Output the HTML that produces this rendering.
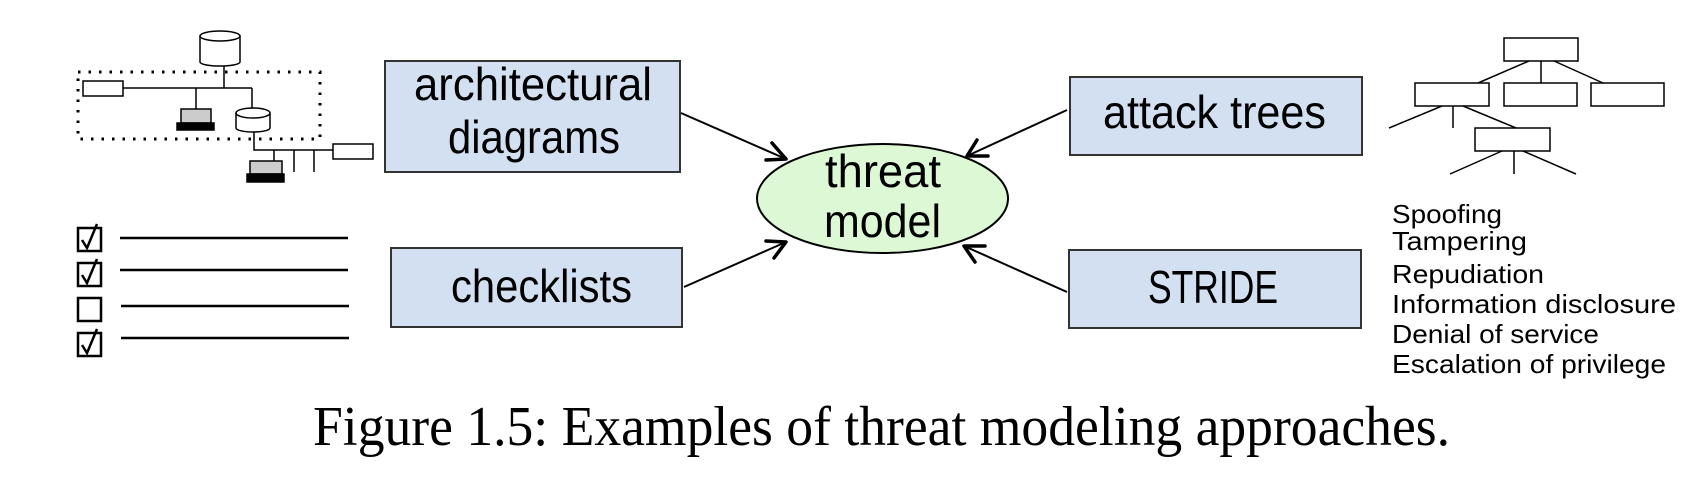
<!DOCTYPE html>
<html><head><meta charset="utf-8"><style>
html,body{margin:0;padding:0;background:#fff;width:1708px;height:484px;overflow:hidden}
svg{display:block}
.c{font-family:"Liberation Sans",sans-serif;fill:#000}
</style></head><body>
<svg width="1708" height="484" viewBox="0 0 1708 484" xmlns="http://www.w3.org/2000/svg">
<g stroke="#000" stroke-width="1.5" fill="#fff">
<rect x="78" y="72" width="242" height="67" fill="none" stroke-width="3" stroke-dasharray="2.5 8"/>
<line x1="224" y1="63" x2="224" y2="88"/>
<line x1="123" y1="88" x2="252" y2="88"/>
<line x1="196" y1="88" x2="196" y2="110"/>
<line x1="252" y1="88" x2="252" y2="110"/>
<rect x="83" y="81" width="40" height="15"/>
<path d="M200,36 L200,62 A20,4 0 0 0 240,62 L240,36"/>
<ellipse cx="220" cy="36" rx="20" ry="5"/>
<rect x="181" y="109" width="30" height="14" fill="#ccc"/>
<rect x="177" y="123" width="37" height="7" fill="#000"/>
<path d="M236,113 L236,128 A17,4 0 0 0 270,128 L270,113"/>
<ellipse cx="253" cy="113" rx="17" ry="5"/>
<polyline points="254,132 254,150 333,150" fill="none"/>
<rect x="333" y="144" width="40" height="15"/>
<line x1="274" y1="150" x2="274" y2="162"/>
<line x1="294" y1="150" x2="294" y2="172"/>
<line x1="314" y1="150" x2="314" y2="172"/>
<rect x="250" y="161" width="32" height="13" fill="#ccc"/>
<rect x="247" y="174" width="37" height="8" fill="#000"/>
</g>
<g stroke="#000" fill="none">
<rect x="78" y="228" width="23" height="23" stroke-width="2.5"/>
<rect x="78" y="263" width="23" height="23" stroke-width="2.5"/>
<rect x="78" y="298" width="23" height="23" stroke-width="2.5"/>
<rect x="78" y="333" width="23" height="23" stroke-width="2.5"/>
<path d="M82,240 L87,248 L97,224" stroke-width="2.5"/>
<path d="M82,275 L87,283 L97,259" stroke-width="2.5"/>
<path d="M82,345 L87,353 L97,329" stroke-width="2.5"/>
<line x1="120" y1="238" x2="348" y2="238" stroke-width="2.5"/>
<line x1="120" y1="270" x2="348" y2="270" stroke-width="2.5"/>
<line x1="121" y1="306" x2="349" y2="306" stroke-width="2.5"/>
<line x1="121" y1="338" x2="349" y2="338" stroke-width="2.5"/>
</g>
<g fill="#d3e0f1" stroke="#333" stroke-width="2">
<rect x="385" y="61" width="295" height="111"/>
<rect x="391" y="248" width="291" height="79"/>
<rect x="1070" y="77" width="292" height="78"/>
<rect x="1069" y="250" width="292" height="78"/>
</g>
<ellipse cx="882.5" cy="198.5" rx="125.5" ry="54.5" fill="#dcf8d5" stroke="#000" stroke-width="2"/>
<g class="c" font-size="46">
<text x="414" y="100" textLength="238" lengthAdjust="spacingAndGlyphs">architectural</text>
<text x="448" y="153" textLength="172" lengthAdjust="spacingAndGlyphs">diagrams</text>
<text x="451" y="302" textLength="181" lengthAdjust="spacingAndGlyphs">checklists</text>
<text x="1103" y="128" textLength="223" lengthAdjust="spacingAndGlyphs">attack trees</text>
<text x="1148" y="303" textLength="130" lengthAdjust="spacingAndGlyphs">STRIDE</text>
<text x="825" y="187" textLength="116" lengthAdjust="spacingAndGlyphs">threat</text>
<text x="824" y="237" textLength="117" lengthAdjust="spacingAndGlyphs">model</text>
</g>
<g stroke="#000" stroke-width="2" fill="none">
<line x1="681" y1="113" x2="786" y2="159"/>
<line x1="684" y1="287" x2="786" y2="242"/>
<line x1="1067" y1="110" x2="967" y2="156"/>
<line x1="1067" y1="292" x2="964" y2="246"/>
</g>
<g stroke="#000" stroke-width="3.5" fill="none" stroke-linecap="round" stroke-linejoin="round">
<polyline points="772,143 786,159 766,160"/>
<polyline points="766,241 786,242 774,258"/>
<polyline points="977,140 967,156 988,156"/>
<polyline points="975,262 964,246 985,246"/>
</g>
<g stroke="#000" stroke-width="1.5" fill="#fff">
<rect x="1504" y="38" width="74" height="23"/>
<rect x="1415" y="83" width="74" height="23"/>
<rect x="1504" y="83" width="73" height="23"/>
<rect x="1591" y="83" width="73" height="23"/>
<rect x="1475" y="128" width="75" height="23"/>
<line x1="1529" y1="61" x2="1478" y2="83"/>
<line x1="1541" y1="61" x2="1541" y2="83"/>
<line x1="1554" y1="61" x2="1603" y2="83"/>
<line x1="1442" y1="106" x2="1389" y2="128"/>
<line x1="1453" y1="106" x2="1453" y2="128"/>
<line x1="1463" y1="106" x2="1516" y2="128"/>
<line x1="1502" y1="151" x2="1450" y2="174"/>
<line x1="1514" y1="151" x2="1514" y2="174"/>
<line x1="1523" y1="151" x2="1576" y2="174"/>
</g>
<g class="c" font-size="26">
<text x="1392" y="223" textLength="110" lengthAdjust="spacingAndGlyphs">Spoofing</text>
<text x="1392" y="250" textLength="135" lengthAdjust="spacingAndGlyphs">Tampering</text>
<text x="1392" y="283" textLength="152" lengthAdjust="spacingAndGlyphs">Repudiation</text>
<text x="1392" y="313" textLength="284" lengthAdjust="spacingAndGlyphs">Information disclosure</text>
<text x="1392" y="343" textLength="207" lengthAdjust="spacingAndGlyphs">Denial of service</text>
<text x="1392" y="373" textLength="274" lengthAdjust="spacingAndGlyphs">Escalation of privilege</text>
</g>
<text x="313" y="445" font-family="'Liberation Serif',serif" font-size="56" textLength="1137" lengthAdjust="spacingAndGlyphs">Figure 1.5:  Examples of threat modeling approaches.</text>
</svg>
</body></html>
